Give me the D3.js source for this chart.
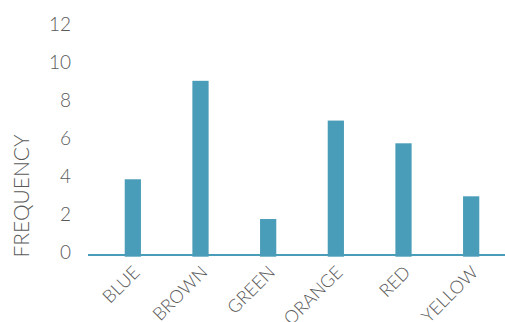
<!DOCTYPE html>
<html><head><meta charset="utf-8">
<script src="https://cdn.jsdelivr.net/npm/d3@7"></script>
<style>body{margin:0;background:#fff}svg{display:block}</style>
</head><body>
<script>
const categories = ["BLUE","BROWN","GREEN","ORANGE","RED","YELLOW"];
const frequency = [4.0, 9.2, 1.9, 7.1, 5.9, 3.1];
const yTicks = [0, 2, 4, 6, 8, 10, 12];
const yTitle = "FREQUENCY";

const W = 505, H = 322;
const svg = d3.select("body").append("svg").attr("width", W).attr("height", H);
const font = "Lato, 'Open Sans', sans-serif";
const textColor = "#595959";
const barColor = "#4a9db8";

const x = d3.scaleBand().domain(categories).range([99, 505]).paddingInner(0.76).paddingOuter(0.38);
const y = d3.scaleLinear().domain([0, 12]).range([255, 27.8]);

// y axis labels
const yAxis = d3.axisLeft(y).tickValues(yTicks).tickSize(0).tickPadding(0);
const gy = svg.append("g").attr("transform", "translate(71,3)").call(yAxis);
gy.select(".domain").remove();
gy.selectAll("text").attr("font-family", font).attr("font-weight", 300)
  .attr("font-size", 19).attr("fill", textColor).attr("dy", "0em");

// bars
svg.append("g").selectAll("rect").data(categories).join("rect")
  .attr("x", d => x(d)).attr("width", x.bandwidth())
  .attr("y", (d, i) => y(frequency[i]))
  .attr("height", (d, i) => y(0) - y(frequency[i]) + 1.7)
  .attr("fill", barColor);

// baseline
svg.append("line").attr("x1", 88).attr("x2", 505).attr("y1", y(0)).attr("y2", y(0))
  .attr("stroke", barColor).attr("stroke-width", 2);

// x axis labels
const xAxis = d3.axisBottom(x).tickSize(0).tickPadding(0);
const gx = svg.append("g").attr("transform", `translate(0,${y(0)})`).call(xAxis);
gx.select(".domain").remove();
gx.selectAll("text").attr("font-family", font).attr("font-weight", 300)
  .attr("font-size", 18).attr("fill", textColor)
  .attr("text-anchor", "end").attr("dy", null).attr("y", 0)
  .attr("transform", "translate(8,18.5) rotate(-45)");

// y title
svg.append("text").attr("transform", "translate(29,196) rotate(-90)")
  .attr("text-anchor", "middle").attr("font-family", font).attr("font-weight", 300)
  .attr("font-size", 21).attr("fill", textColor).text(yTitle);
</script>
</body></html>
